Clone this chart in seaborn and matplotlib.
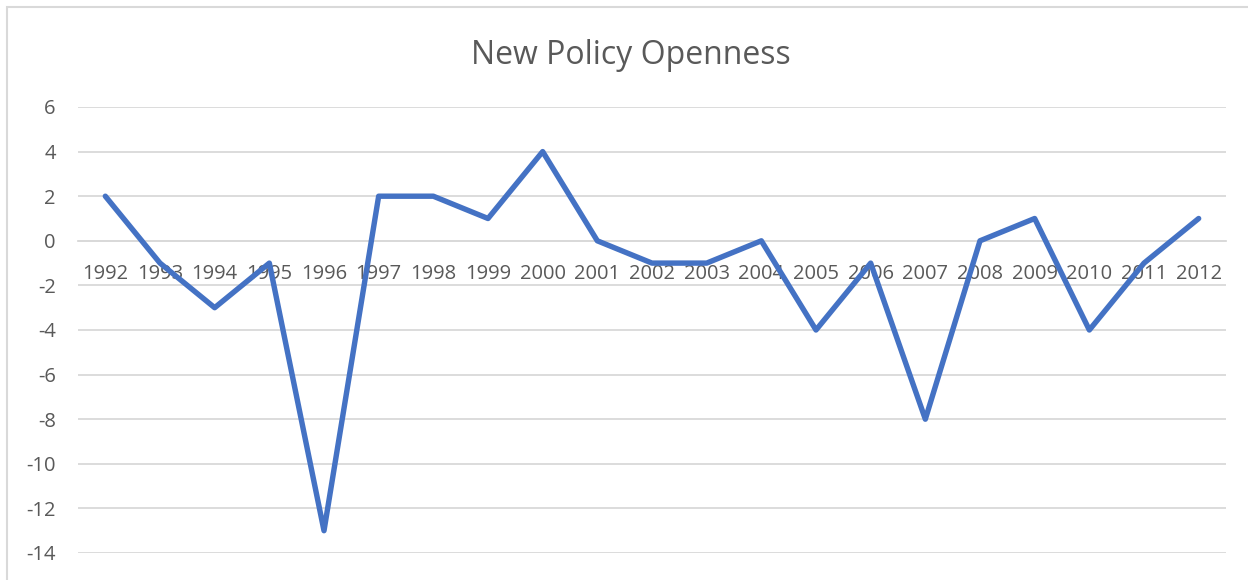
import matplotlib
matplotlib.use("Agg")
import matplotlib.pyplot as plt
import seaborn as sns
import pandas as pd
from matplotlib.patches import Rectangle

years = ["1992", "1993", "1994", "1995", "1996", "1997", "1998", "1999", "2000",
         "2001", "2002", "2003", "2004", "2005", "2006", "2007", "2008", "2009",
         "2010", "2011", "2012"]
openness = [2, -1, -3, -1, -13, 2, 2, 1, 4, 0, -1, -1, 0, -4, -1, -8, 0, 1, -4, -1, 1]
y_ticks = [6, 4, 2, 0, -2, -4, -6, -8, -10, -12, -14]

sns.set_theme(style="white")
plt.rcParams["font.family"] = ["Open Sans", "DejaVu Sans"]

text_color = "#595959"
grid_color = "#D9D9D9"
line_color = "#4472C4"

df = pd.DataFrame({"pos": range(len(years)), "value": openness})

fig = plt.figure(figsize=(12.48, 5.8), dpi=100)
fig.patch.set_facecolor("white")

# Chart-area frame (runs past the right and bottom edges of the canvas)
fig.patches.append(Rectangle((7 / 1248, -0.1), 1.1, 1.1 - 7 / 580,
                             transform=fig.transFigure, fill=False,
                             edgecolor=grid_color, linewidth=1.5))

ax = fig.add_axes([78 / 1248, 1 - 553 / 580, (1226 - 78) / 1248, (553 - 107) / 580])

sns.lineplot(data=df, x="pos", y="value", ax=ax, color=line_color,
             linewidth=3.9, solid_joinstyle="round", solid_capstyle="round",
             zorder=3)

ax.set_xlim(-0.5, len(years) - 0.5)
ax.set_ylim(-14, 6)
ax.set_yticks(y_ticks)
ax.set_yticklabels([str(t) for t in y_ticks])
ax.set_xticks(range(len(years)))
ax.set_xticklabels(years)

ax.yaxis.grid(True, color=grid_color, linewidth=1.3)
ax.set_axisbelow(True)

for side in ["top", "right", "left"]:
    ax.spines[side].set_visible(False)
ax.spines["bottom"].set_position(("data", 0))
ax.spines["bottom"].set_color(grid_color)
ax.spines["bottom"].set_linewidth(1.3)

ax.tick_params(axis="x", length=0, pad=16.5, labelsize=14.5, labelcolor=text_color)
ax.tick_params(axis="y", length=0, pad=16, labelsize=14.5, labelcolor=text_color)
ax.set_xlabel("")
ax.set_ylabel("")

fig.text(631 / 1248, 1 - 55 / 580, "New Policy Openness", ha="center", va="center",
         fontsize=23, color=text_color)

fig.savefig("out.png", dpi=100, facecolor="white")
